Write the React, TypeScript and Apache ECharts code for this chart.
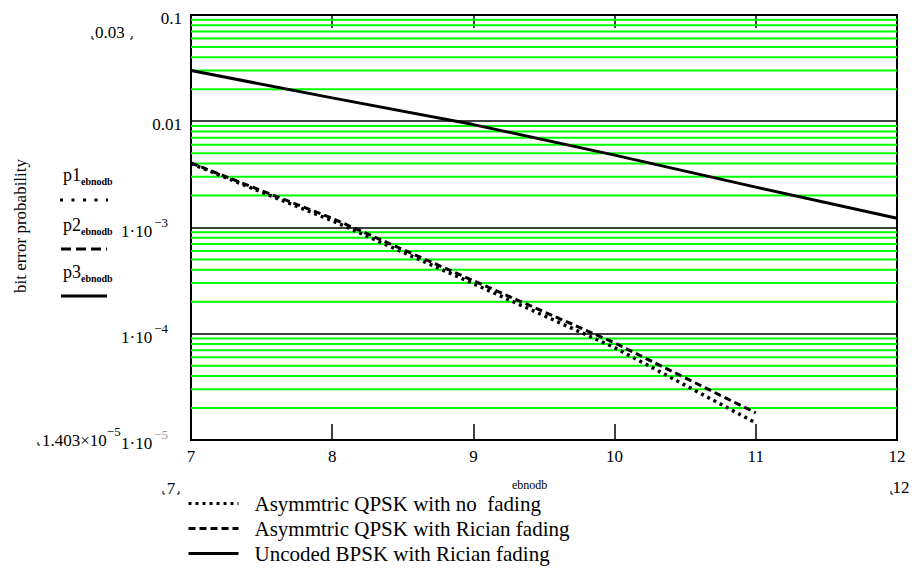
import React, { useEffect, useRef } from "react";
import * as echarts from "echarts";

// x values (Eb/No, dB)
const ebnodb = [7, 8, 9, 10, 11, 12];
const ebnodbQPSK = [7, 8, 9, 10, 11];
// bit error probability
const p1NoFading = [4.0e-3, 1.16e-3, 2.96e-4, 7.4e-5, 1.45e-5];
const p2Rician = [4.05e-3, 1.22e-3, 3.16e-4, 8.2e-5, 1.8e-5];
const p3Uncoded = [0.03, 0.0166, 0.0093, 0.0048, 0.0024, 0.00122];

const seriesNames = [
  "Asymmtric QPSK with no  fading",
  "Asymmtric QPSK with Rician fading",
  "Uncoded BPSK with Rician fading",
];

// minor grid: 2..9 times each decade
const decades = [1e-5, 1e-4, 1e-3, 1e-2];
const minorMultipliers = [2, 3, 4, 5, 6, 7, 8, 9];
const xRange = [7, 12];

const SERIF = "Liberation Serif";

function pairs(xs: number[], ys: number[]) {
  return ys.map((y, i) => [xs[i], y]);
}

function corner(x: number, y: number, left: boolean) {
  return {
    type: "polyline",
    shape: {
      points: left
        ? [[x, y - 3], [x, y], [x + 2, y]]
        : [[x - 2, y], [x, y], [x, y - 3]],
    },
    style: { stroke: "#000", lineWidth: 1, fill: null },
  };
}

function traceLabel(name: string, y: number) {
  return {
    type: "text",
    x: 63,
    y,
    style: {
      text: "{a|" + name + "}{s|ebnodb}",
      textVerticalAlign: "middle",
      rich: {
        a: { fontFamily: SERIF, fontSize: 18, color: "#000", verticalAlign: "top", lineHeight: 21 },
        s: { fontFamily: SERIF, fontSize: 10, color: "#000", fontWeight: "bold", verticalAlign: "bottom" },
      },
    },
  };
}

export default function App() {
  const ref = useRef<HTMLDivElement>(null);

  useEffect(() => {
    if (!ref.current) return;
    const chart = echarts.init(ref.current, undefined, { renderer: "svg" });

    const minorData: any[] = [];
    decades.forEach((d) =>
      minorMultipliers.forEach((m) => {
        minorData.push([xRange[0], m * d], [xRange[1], m * d], [xRange[1], "-"]);
      })
    );

    const option: any = {
      animation: false,
      backgroundColor: "#fff",
      grid: {
        left: 191,
        right: 18,
        top: 15,
        bottom: 132,
        show: true,
        borderColor: "#000",
        borderWidth: 2,
        backgroundColor: "transparent",
      },
      legend: {
        orient: "vertical",
        left: 187,
        top: 493,
        padding: 0,
        itemWidth: 50,
        itemHeight: 14,
        itemGap: 4,
        selectedMode: false,
        data: seriesNames,
        itemStyle: { opacity: 0 },
        lineStyle: { width: 3 },
        textStyle: {
          fontFamily: SERIF,
          fontSize: 21,
          color: "#000",
          lineHeight: 21,
          padding: [0, 0, 0, 11],
        },
      },
      xAxis: [
        {
          type: "value",
          min: xRange[0],
          max: xRange[1],
          interval: 1,
          position: "bottom",
          axisLine: { show: true, lineStyle: { color: "#000", width: 2 } },
          axisTick: { show: true, inside: true, length: 16, lineStyle: { color: "#000", width: 1.5 } },
          splitLine: { show: false },
          axisLabel: {
            margin: 8,
            fontFamily: SERIF,
            fontSize: 17,
            color: "#000",
          },
        },
        {
          type: "value",
          min: xRange[0],
          max: xRange[1],
          interval: 1,
          position: "top",
          axisLine: { show: true, lineStyle: { color: "#000", width: 2 } },
          axisTick: { show: true, inside: true, length: 13, lineStyle: { color: "#000", width: 1.5 } },
          splitLine: { show: false },
          axisLabel: { show: false },
        },
      ],
      yAxis: {
        type: "log",
        logBase: 10,
        min: 1e-5,
        max: 0.1,
        axisLine: { show: true, lineStyle: { color: "#000", width: 2 } },
        axisTick: { show: false },
        splitLine: { show: true, lineStyle: { color: "#000", width: 1.5 } },
        axisLabel: {
          margin: 9,
          formatter: (v: number) => {
            const e = Math.round(Math.log10(v));
            if (e >= -2) return "{n|" + Math.pow(10, e).toFixed(-e) + "}";
            return "{n|1·10}{" + (e === -5 ? "g" : "e") + "|−" + -e + "}";
          },
          rich: {
            n: { fontFamily: SERIF, fontSize: 17, color: "#000", lineHeight: 24, verticalAlign: "bottom" },
            e: { fontFamily: SERIF, fontSize: 13, color: "#000", verticalAlign: "top", padding: [0, 14, 0, 2] },
            g: { fontFamily: SERIF, fontSize: 13, color: "#999", verticalAlign: "top", padding: [0, 14, 0, 2] },
          },
        },
      },
      series: [
        {
          name: "minor-grid",
          type: "line",
          data: minorData,
          silent: true,
          z: 1,
          symbol: "none",
          connectNulls: false,
          lineStyle: { color: "#00ff00", width: 2 },
          emphasis: { disabled: true },
        },
        {
          name: seriesNames[0],
          type: "line",
          data: pairs(ebnodbQPSK, p1NoFading),
          symbol: "none",
          z: 3,
          lineStyle: { color: "#000", width: 3.5, type: [3, 4] },
          itemStyle: { color: "#000" },
        },
        {
          name: seriesNames[1],
          type: "line",
          data: pairs(ebnodbQPSK, p2Rician),
          symbol: "none",
          z: 3,
          lineStyle: { color: "#000", width: 3, type: [7, 4] },
          itemStyle: { color: "#000" },
        },
        {
          name: seriesNames[2],
          type: "line",
          data: pairs(ebnodb, p3Uncoded),
          symbol: "none",
          z: 3,
          lineStyle: { color: "#000", width: 3, type: "solid" },
          itemStyle: { color: "#000" },
        },
      ],
      graphic: [
        {
          type: "text",
          x: 20,
          y: 226,
          rotation: Math.PI / 2,
          style: {
            text: "bit error probability",
            fontFamily: SERIF,
            fontSize: 17,
            fill: "#000",
            textAlign: "center",
            textVerticalAlign: "middle",
          },
        },
        // Mathcad-style trace labels
        traceLabel("p1", 176),
        {
          type: "line",
          shape: { x1: 60, y1: 200, x2: 108, y2: 200 },
          style: { stroke: "#000", lineWidth: 3, lineDash: [3, 8.5] },
        },
        traceLabel("p2", 226),
        {
          type: "line",
          shape: { x1: 61, y1: 249, x2: 107, y2: 249 },
          style: { stroke: "#000", lineWidth: 3, lineDash: [10, 5] },
        },
        traceLabel("p3", 273),
        {
          type: "line",
          shape: { x1: 61, y1: 296, x2: 107, y2: 296 },
          style: { stroke: "#000", lineWidth: 3 },
        },
        // y-range markers
        {
          type: "text",
          x: 95,
          y: 32,
          style: {
            text: "0.03",
            fontFamily: SERIF,
            fontSize: 17,
            fill: "#000",
            textVerticalAlign: "middle",
          },
        },
        corner(92, 39, true),
        corner(132, 39, false),
        {
          type: "text",
          x: 42,
          y: 437,
          style: {
            text: "{n|1.403×10}{g|−5}",
            textVerticalAlign: "middle",
            rich: {
              n: { fontFamily: SERIF, fontSize: 17, color: "#000", lineHeight: 24, verticalAlign: "bottom" },
              g: { fontFamily: SERIF, fontSize: 13, color: "#999", verticalAlign: "top" },
            },
          },
        },
        corner(38, 445, true),
        // x-range markers
        {
          type: "text",
          x: 171,
          y: 488,
          style: {
            text: "7",
            fontFamily: SERIF,
            fontSize: 17,
            fill: "#000",
            textAlign: "center",
            textVerticalAlign: "middle",
          },
        },
        corner(163, 494, true),
        corner(179, 494, false),
        {
          type: "text",
          x: 901,
          y: 487,
          style: {
            text: "12",
            fontFamily: SERIF,
            fontSize: 17,
            fill: "#000",
            textAlign: "center",
            textVerticalAlign: "middle",
          },
        },
        corner(891, 494, true),
        {
          type: "text",
          x: 512,
          y: 485,
          style: {
            text: "ebnodb",
            fontFamily: SERIF,
            fontSize: 12,
            fill: "#000",
            textVerticalAlign: "middle",
          },
        },
      ],
    };

    chart.setOption(option);
    return () => chart.dispose();
  }, []);

  return (
    <div
      ref={ref}
      style={{ position: "fixed", left: 0, top: 0, width: 915, height: 572, background: "#fff" }}
    />
  );
}
